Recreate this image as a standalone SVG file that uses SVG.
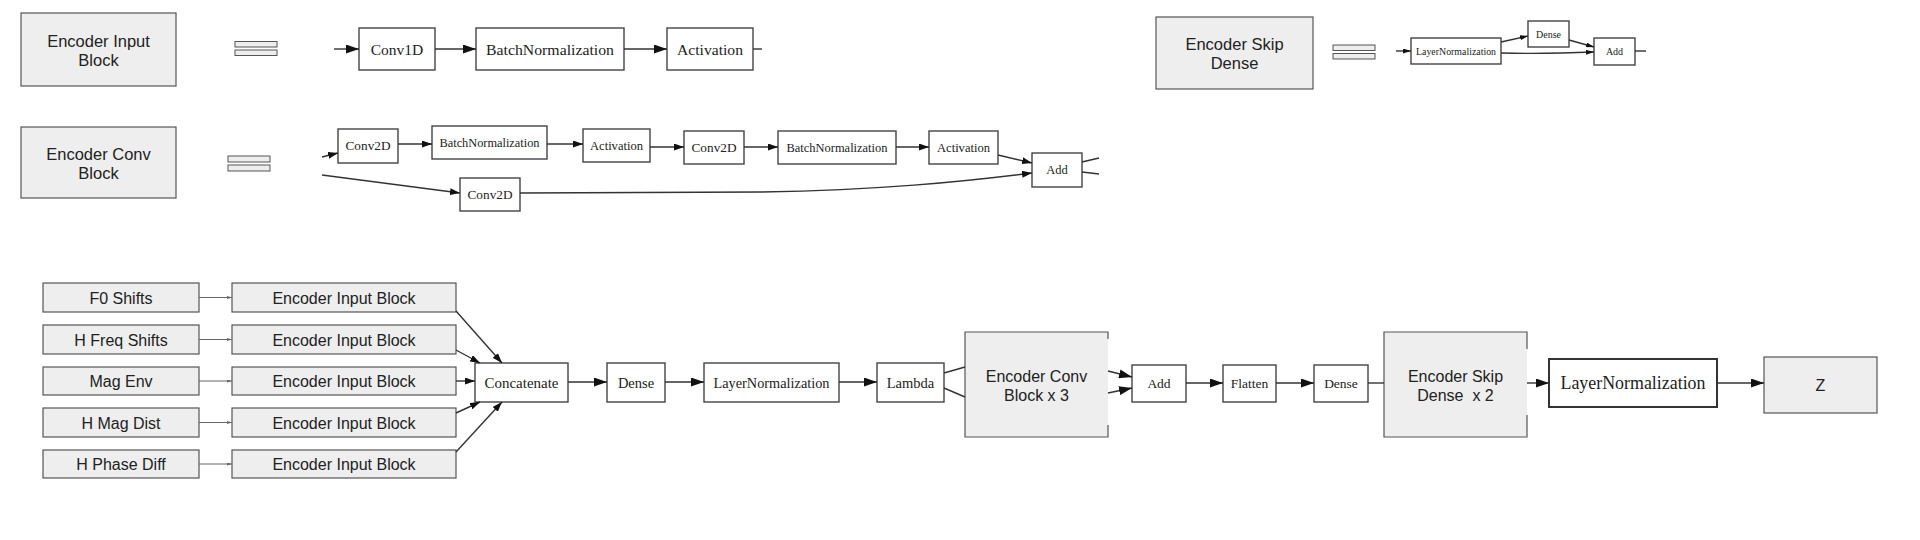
<svg xmlns="http://www.w3.org/2000/svg" width="1920" height="540" viewBox="0 0 1920 540">
<style>
.bg{fill:#fff}
.gbox{fill:#eeeeee;stroke:#555;stroke-width:1.2}
.gfill{fill:#eeeeee;stroke:none}
.gline{fill:none;stroke:#555;stroke-width:1.2}
.nbox{fill:#fff;stroke:#444;stroke-width:1.4}
.nbox2{fill:#fff;stroke:#333;stroke-width:2}
.eq{fill:#eeeeee;stroke:#555;stroke-width:1}
.sans{font-family:"Liberation Sans",Arial,sans-serif;fill:#222;font-size:16px;text-anchor:middle}
.big{font-size:16.5px}
.serif{font-family:"Liberation Serif","Times New Roman",serif;fill:#222;text-anchor:middle}
.e{fill:none;stroke:#333;stroke-width:1.4}
.et{fill:none;stroke:#666;stroke-width:1}
</style>
<defs>
<marker id="aL" markerWidth="13" markerHeight="9" refX="13" refY="4.5" orient="auto" markerUnits="userSpaceOnUse"><path d="M0,0 L13,4.5 L0,9 z" fill="#111"/></marker>
<marker id="aM" markerWidth="10" markerHeight="7" refX="10" refY="3.5" orient="auto" markerUnits="userSpaceOnUse"><path d="M0,0 L10,3.5 L0,7 z" fill="#111"/></marker>
<marker id="aS" markerWidth="8" markerHeight="5" refX="8" refY="2.5" orient="auto" markerUnits="userSpaceOnUse"><path d="M0,0 L8,2.5 L0,5 z" fill="#111"/></marker>
<marker id="aT" markerWidth="5" markerHeight="3" refX="5" refY="1.5" orient="auto" markerUnits="userSpaceOnUse"><path d="M0,0 L5,1.5 L0,3 z" fill="#666"/></marker>
</defs>
<rect class="bg" x="0" y="0" width="1920" height="540"/>

<!-- Legend: Encoder Input Block -->
<g id="legend-input">
<rect class="gbox" x="21" y="13" width="155" height="73"/>
<text class="sans big" x="98.5" y="47">Encoder Input</text>
<text class="sans big" x="98.5" y="66">Block</text>
<rect class="eq" x="235" y="41.5" width="42" height="5.5"/>
<rect class="eq" x="235" y="50" width="42" height="5.5"/>
</g>
<g id="t-conv1d"><rect class="nbox" x="359" y="28" width="76" height="42"/><text class="serif" x="397" y="55" font-size="15.5">Conv1D</text></g>
<g id="t-bn1"><rect class="nbox" x="476" y="28" width="148" height="42"/><text class="serif" x="550" y="55" font-size="15.5" textLength="128" lengthAdjust="spacingAndGlyphs">BatchNormalization</text></g>
<g id="t-act1"><rect class="nbox" x="667" y="28" width="86" height="42"/><text class="serif" x="710" y="55" font-size="15.5" textLength="66" lengthAdjust="spacingAndGlyphs">Activation</text></g>

<!-- Legend: Encoder Conv Block -->
<g id="legend-conv">
<rect class="gbox" x="21" y="127" width="155" height="71"/>
<text class="sans big" x="98.5" y="160">Encoder Conv</text>
<text class="sans big" x="98.5" y="179">Block</text>
<rect class="eq" x="228" y="156" width="42" height="6"/>
<rect class="eq" x="228" y="165" width="42" height="6"/>
</g>
<g id="c-conv2d1"><rect class="nbox" x="338" y="129" width="60" height="34"/><text class="serif" x="368" y="150" font-size="12.5" textLength="45" lengthAdjust="spacingAndGlyphs">Conv2D</text></g>
<g id="c-bn1"><rect class="nbox" x="432" y="126" width="115" height="33"/><text class="serif" x="489.5" y="147" font-size="12.5" textLength="100" lengthAdjust="spacingAndGlyphs">BatchNormalization</text></g>
<g id="c-act1"><rect class="nbox" x="583" y="129" width="67" height="33"/><text class="serif" x="616.5" y="150" font-size="12.5" textLength="53" lengthAdjust="spacingAndGlyphs">Activation</text></g>
<g id="c-conv2d2"><rect class="nbox" x="684" y="131" width="60" height="33"/><text class="serif" x="714" y="152" font-size="12.5" textLength="45" lengthAdjust="spacingAndGlyphs">Conv2D</text></g>
<g id="c-bn2"><rect class="nbox" x="778" y="131" width="118" height="33"/><text class="serif" x="837" y="152" font-size="12.5" textLength="101" lengthAdjust="spacingAndGlyphs">BatchNormalization</text></g>
<g id="c-act2"><rect class="nbox" x="929" y="131" width="69" height="33"/><text class="serif" x="963.5" y="152" font-size="12.5" textLength="53" lengthAdjust="spacingAndGlyphs">Activation</text></g>
<g id="c-add"><rect class="nbox" x="1032" y="153" width="50" height="34"/><text class="serif" x="1057" y="174" font-size="12.5">Add</text></g>
<g id="c-conv2d3"><rect class="nbox" x="460" y="178" width="60" height="33"/><text class="serif" x="490" y="199" font-size="12.5" textLength="45" lengthAdjust="spacingAndGlyphs">Conv2D</text></g>

<!-- Legend: Encoder Skip Dense -->
<g id="legend-skip">
<rect class="gbox" x="1156" y="17" width="157" height="72"/>
<text class="sans big" x="1234.5" y="50">Encoder Skip</text>
<text class="sans big" x="1234.5" y="69">Dense</text>
<rect class="eq" x="1333" y="45" width="42" height="5.5"/>
<rect class="eq" x="1333" y="53.5" width="42" height="5.5"/>
</g>
<g id="s-ln"><rect class="nbox" x="1411" y="38" width="90" height="26"/><text class="serif" x="1456" y="54.5" font-size="10" textLength="80" lengthAdjust="spacingAndGlyphs">LayerNormalization</text></g>
<g id="s-dense"><rect class="nbox" x="1528" y="21" width="41" height="26"/><text class="serif" x="1548.5" y="37.5" font-size="10">Dense</text></g>
<g id="s-add"><rect class="nbox" x="1594" y="38" width="41" height="27"/><text class="serif" x="1614.5" y="55" font-size="10">Add</text></g>

<!-- Main graph: inputs -->
<g id="in-f0"><rect class="gbox" x="43" y="283" width="156" height="29"/><text class="sans" x="121" y="303.5">F0 Shifts</text></g>
<g id="in-hfreq"><rect class="gbox" x="43" y="325" width="156" height="29"/><text class="sans" x="121" y="345.5">H Freq Shifts</text></g>
<g id="in-mag"><rect class="gbox" x="43" y="367" width="156" height="28"/><text class="sans" x="121" y="387">Mag Env</text></g>
<g id="in-hmag"><rect class="gbox" x="43" y="408" width="156" height="29"/><text class="sans" x="121" y="428.5">H Mag Dist</text></g>
<g id="in-hphase"><rect class="gbox" x="43" y="450" width="156" height="28"/><text class="sans" x="121" y="470">H Phase Diff</text></g>

<g id="eib1"><rect class="gbox" x="232" y="283" width="224" height="29"/><text class="sans" x="344" y="303.5">Encoder Input Block</text></g>
<g id="eib2"><rect class="gbox" x="232" y="325" width="224" height="29"/><text class="sans" x="344" y="345.5">Encoder Input Block</text></g>
<g id="eib3"><rect class="gbox" x="232" y="367" width="224" height="28"/><text class="sans" x="344" y="387">Encoder Input Block</text></g>
<g id="eib4"><rect class="gbox" x="232" y="408" width="224" height="29"/><text class="sans" x="344" y="428.5">Encoder Input Block</text></g>
<g id="eib5"><rect class="gbox" x="232" y="450" width="224" height="28"/><text class="sans" x="344" y="470">Encoder Input Block</text></g>

<g id="m-concat"><rect class="nbox" x="475" y="363" width="93" height="39"/><text class="serif" x="521.5" y="387.5" font-size="14.5" textLength="74" lengthAdjust="spacingAndGlyphs">Concatenate</text></g>
<g id="m-dense1"><rect class="nbox" x="607" y="363" width="58" height="39"/><text class="serif" x="636" y="387.5" font-size="14.5">Dense</text></g>
<g id="m-ln1"><rect class="nbox" x="704" y="363" width="135" height="39"/><text class="serif" x="771.5" y="387.5" font-size="14.5" textLength="116" lengthAdjust="spacingAndGlyphs">LayerNormalization</text></g>
<g id="m-lambda"><rect class="nbox" x="877" y="363" width="67" height="39"/><text class="serif" x="910.5" y="387.5" font-size="14.5">Lambda</text></g>
<g id="m-convblock">
<rect class="gfill" x="965" y="332" width="143" height="105"/>
<path class="gline" d="M1108,339 L1108,332 L965,332 L965,437 L1108,437 L1108,425"/>
<text class="sans" x="1036.5" y="382">Encoder Conv</text>
<text class="sans" x="1036.5" y="401">Block x 3</text>
</g>
<g id="m-add"><rect class="nbox" x="1132" y="365" width="54" height="37"/><text class="serif" x="1159" y="388" font-size="13.5">Add</text></g>
<g id="m-flatten"><rect class="nbox" x="1223" y="365" width="53" height="37"/><text class="serif" x="1249.5" y="388" font-size="13.5">Flatten</text></g>
<g id="m-dense2"><rect class="nbox" x="1314" y="365" width="54" height="37"/><text class="serif" x="1341" y="388" font-size="13.5">Dense</text></g>
<g id="m-skipblock">
<rect class="gfill" x="1384" y="332" width="143" height="105"/>
<path class="gline" d="M1527,349 L1527,332 L1384,332 L1384,437 L1527,437 L1527,415"/>
<text class="sans" x="1455.5" y="382">Encoder Skip</text>
<text class="sans" x="1455.5" y="401" xml:space="preserve">Dense  x 2</text>
</g>
<g id="m-ln2"><rect class="nbox2" x="1549" y="359" width="168" height="48"/><text class="serif" x="1633" y="389" font-size="18" textLength="145" lengthAdjust="spacingAndGlyphs">LayerNormalization</text></g>
<g id="m-z"><rect class="gbox" x="1764" y="357" width="113" height="56"/><text class="sans" x="1820.5" y="391">Z</text></g>

<g id="connectors">
<!-- top row -->
<line class="e" x1="334" y1="49" x2="359" y2="49" marker-end="url(#aL)"/>
<line class="e" x1="435" y1="49" x2="476" y2="49" marker-end="url(#aL)"/>
<line class="e" x1="624" y1="49" x2="667" y2="49" marker-end="url(#aL)"/>
<line class="e" x1="753" y1="49" x2="762" y2="49"/>
<!-- conv block row -->
<line class="e" x1="322" y1="157" x2="338" y2="153" marker-end="url(#aM)"/>
<line class="e" x1="398" y1="144" x2="432" y2="144" marker-end="url(#aM)"/>
<line class="e" x1="547" y1="144" x2="583" y2="144" marker-end="url(#aM)"/>
<line class="e" x1="650" y1="147" x2="684" y2="147" marker-end="url(#aM)"/>
<line class="e" x1="744" y1="147" x2="778" y2="147" marker-end="url(#aM)"/>
<line class="e" x1="896" y1="147" x2="929" y2="147" marker-end="url(#aM)"/>
<line class="e" x1="998" y1="155" x2="1032" y2="163" marker-end="url(#aM)"/>
<line class="e" x1="322" y1="175" x2="460" y2="193" marker-end="url(#aM)"/>
<path class="e" d="M520,193 L760,192 C880,190 960,182 1032,173" marker-end="url(#aM)"/>
<line class="e" x1="1082" y1="162" x2="1099" y2="158"/>
<line class="e" x1="1082" y1="172" x2="1099" y2="174"/>
<!-- skip dense legend -->
<line class="e" x1="1396" y1="51" x2="1411" y2="51" marker-end="url(#aS)"/>
<line class="e" x1="1501" y1="42" x2="1528" y2="36" marker-end="url(#aS)"/>
<line class="e" x1="1569" y1="40" x2="1594" y2="47" marker-end="url(#aS)"/>
<path class="e" d="M1501,53 C1540,54 1570,53 1594,52" marker-end="url(#aS)"/>
<line class="e" x1="1635" y1="51" x2="1646" y2="51"/>
<!-- inputs -->
<line class="et" x1="199" y1="297.5" x2="232" y2="297.5" marker-end="url(#aT)"/>
<line class="et" x1="199" y1="339.5" x2="232" y2="339.5" marker-end="url(#aT)"/>
<line class="et" x1="199" y1="381" x2="232" y2="381" marker-end="url(#aT)"/>
<line class="et" x1="199" y1="422.5" x2="232" y2="422.5" marker-end="url(#aT)"/>
<line class="et" x1="199" y1="464" x2="232" y2="464" marker-end="url(#aT)"/>
<line class="e" x1="456" y1="311" x2="502" y2="363" marker-end="url(#aM)"/>
<line class="e" x1="456" y1="350" x2="480" y2="363" marker-end="url(#aM)"/>
<line class="e" x1="456" y1="381" x2="475" y2="381" marker-end="url(#aM)"/>
<line class="e" x1="456" y1="413" x2="480" y2="402" marker-end="url(#aM)"/>
<line class="e" x1="456" y1="452" x2="502" y2="402" marker-end="url(#aM)"/>
<!-- main row -->
<line class="e" x1="568" y1="382" x2="607" y2="382" marker-end="url(#aL)"/>
<line class="e" x1="665" y1="382" x2="704" y2="382" marker-end="url(#aL)"/>
<line class="e" x1="839" y1="382" x2="877" y2="382" marker-end="url(#aL)"/>
<line class="e" x1="944" y1="373" x2="965" y2="367"/>
<line class="e" x1="944" y1="388" x2="965" y2="397"/>
<line class="e" x1="1108" y1="371" x2="1132" y2="377" marker-end="url(#aL)"/>
<line class="e" x1="1108" y1="393" x2="1132" y2="388" marker-end="url(#aL)"/>
<line class="e" x1="1186" y1="383" x2="1223" y2="383" marker-end="url(#aL)"/>
<line class="e" x1="1276" y1="383" x2="1314" y2="383" marker-end="url(#aL)"/>
<line class="e" x1="1368" y1="383" x2="1384" y2="383"/>
<line class="e" x1="1527" y1="383" x2="1549" y2="383" marker-end="url(#aL)"/>
<line class="e" x1="1717" y1="383" x2="1764" y2="383" marker-end="url(#aL)"/>
</g>
</svg>
